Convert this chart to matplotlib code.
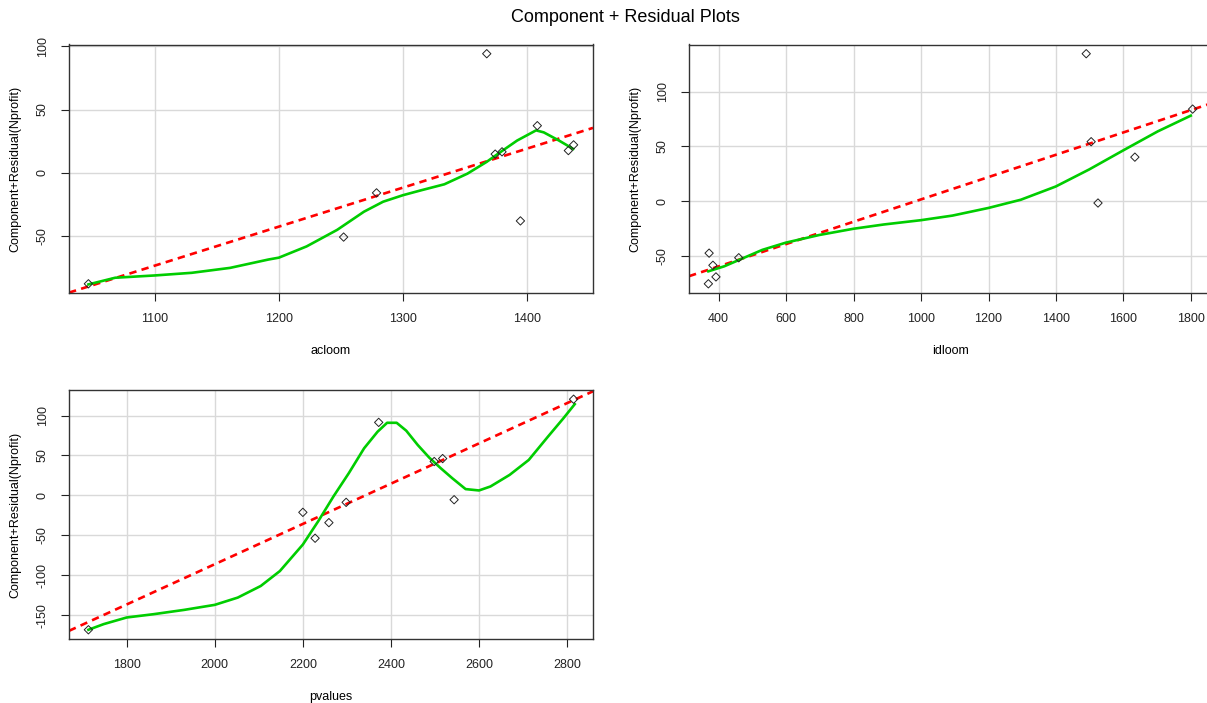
import numpy as np
import matplotlib
matplotlib.use("Agg")
import matplotlib.pyplot as plt

plt.rcParams['font.family'] = ['Liberation Sans', 'DejaVu Sans']
plt.rcParams['axes.unicode_minus'] = False

# partial residual points
ac_x = [1046.7, 1252.1, 1278.6, 1367.3, 1374.1, 1379.6, 1394.4, 1408.0, 1433.0, 1437.2]
ac_y = [-88.0, -51.0, -16.0, 94.2, 14.7, 16.5, -38.2, 37.2, 17.5, 22.0]

id_x = [371.8, 383.1, 392.1, 369.6, 459.7, 1489.6, 1504.2, 1524.5, 1633.8, 1805.0]
id_y = [-47.6, -58.7, -69.3, -75.6, -51.8, 134.6, 54.2, -1.8, 40.1, 84.0]

pv_x = [1713.0, 2200.0, 2227.8, 2259.1, 2298.3, 2372.2, 2498.3, 2517.4, 2543.5, 2814.8]
pv_y = [-168.2, -21.2, -53.6, -34.1, -8.7, 91.4, 42.4, 46.1, -5.4, 120.4]

# loess smooth (green)
ac_sx = [1046.7, 1068.3, 1100, 1129.9, 1160.7, 1191.5, 1200, 1222.3, 1246.9, 1268.5,
         1283.9, 1300, 1314.7, 1333.2, 1351.7, 1367, 1376.3, 1391.7, 1407, 1413.2, 1425.5, 1436.9]
ac_sy = [-88.5, -83.2, -81.4, -79.3, -75.4, -68.8, -67.3, -58.4, -45.3, -30.9,
         -23.0, -17.8, -13.9, -9.2, -0.8, 8.4, 14.9, 25.4, 33.5, 31.9, 25.4, 18.8]

id_sx = [369.6, 416.9, 462, 529.6, 599.4, 698.6, 800, 890.1, 999.4, 1093, 1200,
         1295.8, 1399.4, 1498.6, 1600, 1701.4, 1799.4]
id_sy = [-64.2, -59.6, -53.6, -44.6, -38.0, -31.0, -25.3, -21.4, -17.5, -13.3, -6.3,
         1.2, 13.3, 28.9, 46.4, 63.6, 78.0]

pv_sx = [1713, 1747.8, 1800, 1860.9, 1930.4, 2000, 2052.2, 2104.3, 2147.8, 2200, 2234.8,
         2269.6, 2304.3, 2339.1, 2369.6, 2391.3, 2413, 2434.8, 2460.9, 2487, 2513, 2539.1,
         2569.6, 2600, 2626.1, 2669.6, 2713, 2756.5, 2791.3, 2817.4]
pv_sy = [-168.2, -161.1, -152.8, -148.7, -143.3, -137.0, -127.9, -113.4, -94.7, -61.5, -32.4,
         -1.2, 27.8, 59.0, 79.7, 90.9, 90.9, 81.0, 63.1, 47.3, 34.1, 21.6,
         7.9, 6.2, 11.2, 25.7, 44.4, 73.5, 96.3, 114.2]

# linear component (red dashed): a point on the line and its slope
ac_line = (1300, -11.8, 0.3093)
id_line = (1000, 1.5, 0.102)
pv_line = (2400, 14.7, 0.252)

ac_xticks = [1100, 1200, 1300, 1400]
ac_yticks = [-50, 0, 50, 100]
id_xticks = [400, 600, 800, 1000, 1200, 1400, 1600, 1800]
id_yticks = [-50, 0, 50, 100]
pv_xticks = [1800, 2000, 2200, 2400, 2600, 2800]
pv_yticks = [-150, -100, -50, 0, 50, 100]

W, H = 1207, 703
fig = plt.figure(figsize=(W / 100, H / 100), dpi=100)


def crplot(rect, x, y, sx, sy, line, xticks, yticks, xlabel):
    ax = fig.add_axes(rect)
    ax.set_axisbelow(True)
    ax.grid(True, color='#d9d9d9', lw=1.0)
    ax.axline((line[0], line[1]), slope=line[2], color='#ff0000', lw=1.9,
              linestyle=(0, (2.8, 2.0)), zorder=2)
    ax.plot(sx, sy, color='#00cd00', lw=1.9, zorder=3)
    ax.scatter(x, y, marker='D', s=18, facecolors='none', edgecolors='#222222',
               linewidths=0.7, zorder=4)
    # R style 4% padding
    xr = max(x) - min(x)
    yr = max(y) - min(y)
    ax.set_xlim(min(x) - 0.04 * xr, max(x) + 0.04 * xr)
    ax.set_ylim(min(y) - 0.04 * yr, max(y) + 0.04 * yr)
    ax.set_xticks(xticks)
    ax.set_yticks(yticks)
    ax.tick_params(axis='both', direction='out', length=5.5, width=0.8,
                   labelsize=9, colors='#222222')
    ax.tick_params(axis='x', pad=9)
    ax.tick_params(axis='y', pad=9)
    for lab in ax.get_yticklabels():
        lab.set_rotation(90)
        lab.set_va('center')
    for sp in ax.spines.values():
        sp.set_color('#333333')
        sp.set_linewidth(1.0)
    ax.set_xlabel(xlabel, fontsize=9, labelpad=14.5)
    ax.set_ylabel('Component+Residual(Nprofit)', fontsize=9, labelpad=11)
    return ax


crplot([69 / W, 1 - 293 / H, 524 / W, 248.5 / H], ac_x, ac_y, ac_sx, ac_sy, ac_line,
       ac_xticks, ac_yticks, 'acloom')
crplot([689 / W, 1 - 293 / H, 523 / W, 248.5 / H], id_x, id_y, id_sx, id_sy, id_line,
       id_xticks, id_yticks, 'idloom')
crplot([69 / W, 1 - 639 / H, 524 / W, 249 / H], pv_x, pv_y, pv_sx, pv_sy, pv_line,
       pv_xticks, pv_yticks, 'pvalues')

fig.text(625 / W, 1 - 18 / H, 'Component + Residual Plots', fontsize=13,
         ha='center', va='center')

fig.savefig('out.png', dpi=100)
